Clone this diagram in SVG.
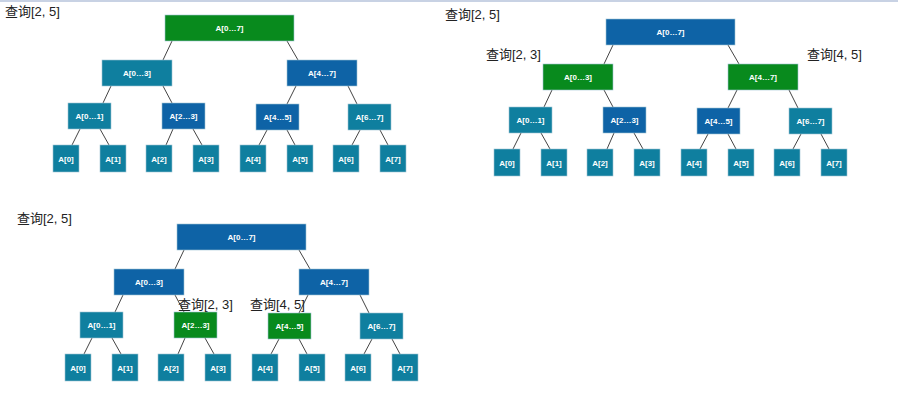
<svg xmlns="http://www.w3.org/2000/svg" width="898" height="402" viewBox="0 0 898 402">
<style>
.n rect{stroke:#9fc3d3;stroke-width:0.6}
.t{fill:#0f7f9f}
.b{fill:#0e63a6}
.g{fill:#088a1d}
.n text{font-family:"Liberation Sans",Arial,sans-serif;font-size:8px;font-weight:bold;fill:#ffffff;text-anchor:middle}
.lbl{font-family:"Liberation Sans","Noto Sans CJK SC",sans-serif;font-size:13px;fill:#222222}
.e line{stroke:#444444;stroke-width:1}
</style>
<rect width="898" height="402" fill="#ffffff"/>
<line x1="0" y1="1" x2="898" y2="1" stroke="#c8d2e4" stroke-width="2"/>

<!-- Panel 1 -->
<g id="panel1">
<g class="e" id="p1-edges">
<line x1="172" y1="41" x2="163" y2="60"/><line x1="287" y1="41" x2="298" y2="60"/>
<line x1="111" y1="86" x2="103" y2="103"/><line x1="163" y1="86" x2="172" y2="103"/>
<line x1="296" y1="86" x2="287" y2="104"/><line x1="348" y1="86" x2="357" y2="104"/>
<line x1="80" y1="129" x2="72" y2="145"/><line x1="100" y1="129" x2="109" y2="145"/>
<line x1="173" y1="129" x2="166" y2="145"/><line x1="193" y1="129" x2="202" y2="145"/>
<line x1="267" y1="130" x2="259" y2="145"/><line x1="287" y1="130" x2="295" y2="145"/>
<line x1="360" y1="130" x2="352" y2="145"/><line x1="380" y1="130" x2="388" y2="145"/>
</g>
<g class="n" id="p1-A07"><rect class="g" x="165" y="15" width="129" height="26"/><text x="229.5" y="31">A[0…7]</text></g>
<g class="n" id="p1-A03"><rect class="t" x="102" y="60" width="70" height="26"/><text x="137" y="76">A[0…3]</text></g>
<g class="n" id="p1-A47"><rect class="b" x="287" y="60" width="70" height="26"/><text x="322" y="76">A[4…7]</text></g>
<g class="n" id="p1-A01"><rect class="t" x="68" y="103" width="43" height="26"/><text x="89.5" y="119">A[0…1]</text></g>
<g class="n" id="p1-A23"><rect class="b" x="162" y="103" width="43" height="26"/><text x="183.5" y="119">A[2…3]</text></g>
<g class="n" id="p1-A45"><rect class="b" x="256" y="104" width="43" height="26"/><text x="277.5" y="120">A[4…5]</text></g>
<g class="n" id="p1-A67"><rect class="t" x="348" y="104" width="43" height="26"/><text x="369.5" y="120">A[6…7]</text></g>
<g class="n" id="p1-A0"><rect class="t" x="53" y="145" width="26" height="27"/><text x="66" y="161.5">A[0]</text></g>
<g class="n" id="p1-A1"><rect class="t" x="100" y="145" width="26" height="27"/><text x="113" y="161.5">A[1]</text></g>
<g class="n" id="p1-A2"><rect class="t" x="146" y="145" width="26" height="27"/><text x="159" y="161.5">A[2]</text></g>
<g class="n" id="p1-A3"><rect class="t" x="193" y="145" width="26" height="27"/><text x="206" y="161.5">A[3]</text></g>
<g class="n" id="p1-A4"><rect class="t" x="240" y="145" width="26" height="27"/><text x="253" y="161.5">A[4]</text></g>
<g class="n" id="p1-A5"><rect class="t" x="287" y="145" width="26" height="27"/><text x="300" y="161.5">A[5]</text></g>
<g class="n" id="p1-A6"><rect class="t" x="333" y="145" width="26" height="27"/><text x="346" y="161.5">A[6]</text></g>
<g class="n" id="p1-A7"><rect class="t" x="380" y="145" width="26" height="27"/><text x="393" y="161.5">A[7]</text></g>
</g>

<!-- Panel 2 -->
<g id="panel2" transform="translate(441,4)">
<g class="e" id="p2-edges">
<line x1="172" y1="41" x2="163" y2="60"/><line x1="287" y1="41" x2="298" y2="60"/>
<line x1="111" y1="86" x2="103" y2="103"/><line x1="163" y1="86" x2="172" y2="103"/>
<line x1="296" y1="86" x2="287" y2="104"/><line x1="348" y1="86" x2="357" y2="104"/>
<line x1="80" y1="129" x2="72" y2="145"/><line x1="100" y1="129" x2="109" y2="145"/>
<line x1="173" y1="129" x2="166" y2="145"/><line x1="193" y1="129" x2="202" y2="145"/>
<line x1="267" y1="130" x2="259" y2="145"/><line x1="287" y1="130" x2="295" y2="145"/>
<line x1="360" y1="130" x2="352" y2="145"/><line x1="380" y1="130" x2="388" y2="145"/>
</g>
<g class="n" id="p2-A07"><rect class="b" x="165" y="15" width="129" height="26"/><text x="229.5" y="31">A[0…7]</text></g>
<g class="n" id="p2-A03"><rect class="g" x="102" y="60" width="70" height="26"/><text x="137" y="76">A[0…3]</text></g>
<g class="n" id="p2-A47"><rect class="g" x="287" y="60" width="70" height="26"/><text x="322" y="76">A[4…7]</text></g>
<g class="n" id="p2-A01"><rect class="t" x="68" y="103" width="43" height="26"/><text x="89.5" y="119">A[0…1]</text></g>
<g class="n" id="p2-A23"><rect class="b" x="162" y="103" width="43" height="26"/><text x="183.5" y="119">A[2…3]</text></g>
<g class="n" id="p2-A45"><rect class="b" x="256" y="104" width="43" height="26"/><text x="277.5" y="120">A[4…5]</text></g>
<g class="n" id="p2-A67"><rect class="t" x="348" y="104" width="43" height="26"/><text x="369.5" y="120">A[6…7]</text></g>
<g class="n" id="p2-A0"><rect class="t" x="53" y="145" width="26" height="27"/><text x="66" y="161.5">A[0]</text></g>
<g class="n" id="p2-A1"><rect class="t" x="100" y="145" width="26" height="27"/><text x="113" y="161.5">A[1]</text></g>
<g class="n" id="p2-A2"><rect class="t" x="146" y="145" width="26" height="27"/><text x="159" y="161.5">A[2]</text></g>
<g class="n" id="p2-A3"><rect class="t" x="193" y="145" width="26" height="27"/><text x="206" y="161.5">A[3]</text></g>
<g class="n" id="p2-A4"><rect class="t" x="240" y="145" width="26" height="27"/><text x="253" y="161.5">A[4]</text></g>
<g class="n" id="p2-A5"><rect class="t" x="287" y="145" width="26" height="27"/><text x="300" y="161.5">A[5]</text></g>
<g class="n" id="p2-A6"><rect class="t" x="333" y="145" width="26" height="27"/><text x="346" y="161.5">A[6]</text></g>
<g class="n" id="p2-A7"><rect class="t" x="380" y="145" width="26" height="27"/><text x="393" y="161.5">A[7]</text></g>
</g>

<!-- Panel 3 -->
<g id="panel3" transform="translate(12,209)">
<g class="e" id="p3-edges">
<line x1="172" y1="41" x2="163" y2="60"/><line x1="287" y1="41" x2="298" y2="60"/>
<line x1="111" y1="86" x2="103" y2="103"/><line x1="163" y1="86" x2="172" y2="103"/>
<line x1="296" y1="86" x2="287" y2="104"/><line x1="348" y1="86" x2="357" y2="104"/>
<line x1="80" y1="129" x2="72" y2="145"/><line x1="100" y1="129" x2="109" y2="145"/>
<line x1="173" y1="129" x2="166" y2="145"/><line x1="193" y1="129" x2="202" y2="145"/>
<line x1="267" y1="130" x2="259" y2="145"/><line x1="287" y1="130" x2="295" y2="145"/>
<line x1="360" y1="130" x2="352" y2="145"/><line x1="380" y1="130" x2="388" y2="145"/>
</g>
<g class="n" id="p3-A07"><rect class="b" x="165" y="15" width="129" height="26"/><text x="229.5" y="31">A[0…7]</text></g>
<g class="n" id="p3-A03"><rect class="b" x="102" y="60" width="70" height="26"/><text x="137" y="76">A[0…3]</text></g>
<g class="n" id="p3-A47"><rect class="b" x="287" y="60" width="70" height="26"/><text x="322" y="76">A[4…7]</text></g>
<g class="n" id="p3-A01"><rect class="t" x="68" y="103" width="43" height="26"/><text x="89.5" y="119">A[0…1]</text></g>
<g class="n" id="p3-A23"><rect class="g" x="162" y="103" width="43" height="26"/><text x="183.5" y="119">A[2…3]</text></g>
<g class="n" id="p3-A45"><rect class="g" x="256" y="104" width="43" height="26"/><text x="277.5" y="120">A[4…5]</text></g>
<g class="n" id="p3-A67"><rect class="t" x="348" y="104" width="43" height="26"/><text x="369.5" y="120">A[6…7]</text></g>
<g class="n" id="p3-A0"><rect class="t" x="53" y="145" width="26" height="27"/><text x="66" y="161.5">A[0]</text></g>
<g class="n" id="p3-A1"><rect class="t" x="100" y="145" width="26" height="27"/><text x="113" y="161.5">A[1]</text></g>
<g class="n" id="p3-A2"><rect class="t" x="146" y="145" width="26" height="27"/><text x="159" y="161.5">A[2]</text></g>
<g class="n" id="p3-A3"><rect class="t" x="193" y="145" width="26" height="27"/><text x="206" y="161.5">A[3]</text></g>
<g class="n" id="p3-A4"><rect class="t" x="240" y="145" width="26" height="27"/><text x="253" y="161.5">A[4]</text></g>
<g class="n" id="p3-A5"><rect class="t" x="287" y="145" width="26" height="27"/><text x="300" y="161.5">A[5]</text></g>
<g class="n" id="p3-A6"><rect class="t" x="333" y="145" width="26" height="27"/><text x="346" y="161.5">A[6]</text></g>
<g class="n" id="p3-A7"><rect class="t" x="380" y="145" width="26" height="27"/><text x="393" y="161.5">A[7]</text></g>
</g>

<g id="labels">
<text class="lbl" x="5" y="16">查询[2, 5]</text>
<text class="lbl" x="445" y="19">查询[2, 5]</text>
<text class="lbl" x="486" y="59">查询[2, 3]</text>
<text class="lbl" x="807" y="59">查询[4, 5]</text>
<text class="lbl" x="17" y="223">查询[2, 5]</text>
<text class="lbl" x="178" y="309">查询[2, 3]</text>
<text class="lbl" x="250" y="309">查询[4, 5]</text>
</g>
</svg>
